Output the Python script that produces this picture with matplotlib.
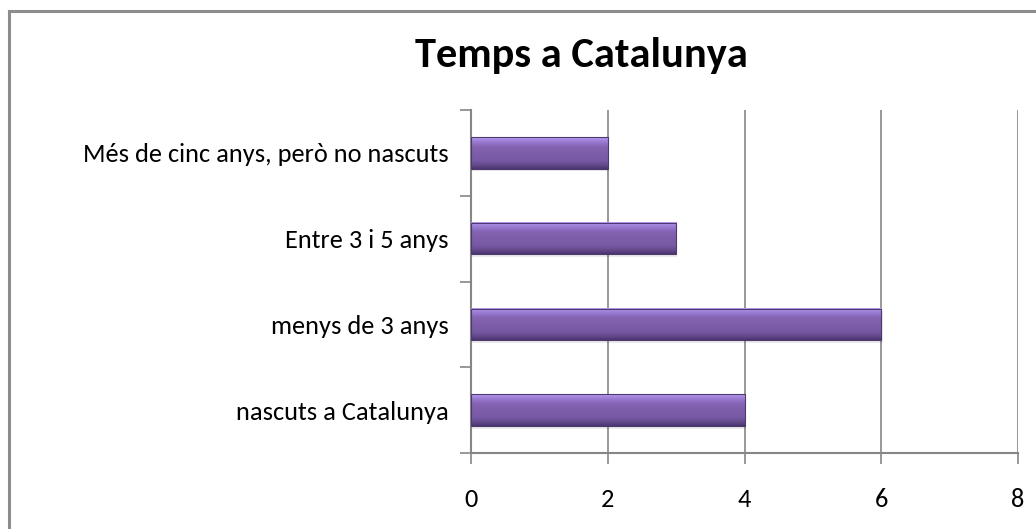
import numpy as np
import matplotlib
matplotlib.use("Agg")
import matplotlib.pyplot as plt
from matplotlib.lines import Line2D
from matplotlib.colors import LinearSegmentedColormap

categories = ["nascuts a Catalunya", "menys de 3 anys", "Entre 3 i 5 anys",
              "Més de cinc anys, però no nascuts"]
values = [4, 6, 3, 2]
xticks = [0, 2, 4, 6, 8]

plt.rcParams['font.family'] = ['Carlito', 'Liberation Sans', 'DejaVu Sans']

fig = plt.figure(figsize=(10.36, 5.29), dpi=100)
W, H = 1036, 529
ax = fig.add_axes([471 / W, 1 - 453 / H, (1018 - 471) / W, (453 - 110) / H])

# outer chart border (runs off right and bottom)
fig.add_artist(Line2D([8.5 / W, 8.5 / W], [1 - 10.5 / H, -0.01], color='#8c8c8c', lw=2.2,
                      transform=fig.transFigure))
fig.add_artist(Line2D([8.5 / W, 1.01], [1 - 10.5 / H, 1 - 10.5 / H], color='#8c8c8c', lw=2.2,
                      transform=fig.transFigure))

bar_h = 0.37
cmap = LinearSegmentedColormap.from_list('purp', [
    (0.0, '#b99cf2'), (0.12, '#9d7ed6'), (0.3, '#8463b2'), (0.75, '#7658a2'),
    (0.9, '#614788'), (1.0, '#4a3470')])
grad = np.linspace(0, 1, 64).reshape(-1, 1)
y = np.arange(len(categories))
for yi, v in zip(y, values):
    # soft shadow beneath bar
    ax.barh(yi - 0.03, v, height=bar_h, left=0.02, color='#000000', alpha=0.08, zorder=2)
    ax.imshow(grad, cmap=cmap, aspect='auto', extent=(0, v, yi - bar_h / 2, yi + bar_h / 2),
              origin='upper', zorder=3, interpolation='bilinear')
    ax.barh(yi, v, height=bar_h, facecolor='none', edgecolor='#4d3870', lw=0.8, zorder=4)

ax.set_xlim(0, 8)
ax.set_ylim(-0.5, 3.5)
ax.set_xticks(xticks)
ax.set_xticklabels([str(t) for t in xticks], fontsize=19)
ax.set_yticks(y)
ax.set_yticklabels(categories, fontsize=19)
ax.set_yticks([-0.5, 0.5, 1.5, 2.5, 3.5], minor=True)
ax.tick_params(axis='y', which='major', length=0, pad=16)
ax.tick_params(axis='y', which='minor', length=8, color='#868686', width=1.2)
ax.tick_params(axis='x', length=8, color='#868686', width=1.2, pad=17, direction='out')
ax.grid(axis='x', color='#868686', lw=1.2, zorder=1)
ax.set_axisbelow(True)
for s in ['top', 'right']:
    ax.spines[s].set_visible(False)
for s in ['left', 'bottom']:
    ax.spines[s].set_color('#868686')
    ax.spines[s].set_linewidth(1.5)

fig.text(581 / W, 1 - 56 / H, "Temps a Catalunya", ha='center', va='center',
         fontsize=30.5, fontweight='bold')

fig.savefig("out.png", dpi=100)
